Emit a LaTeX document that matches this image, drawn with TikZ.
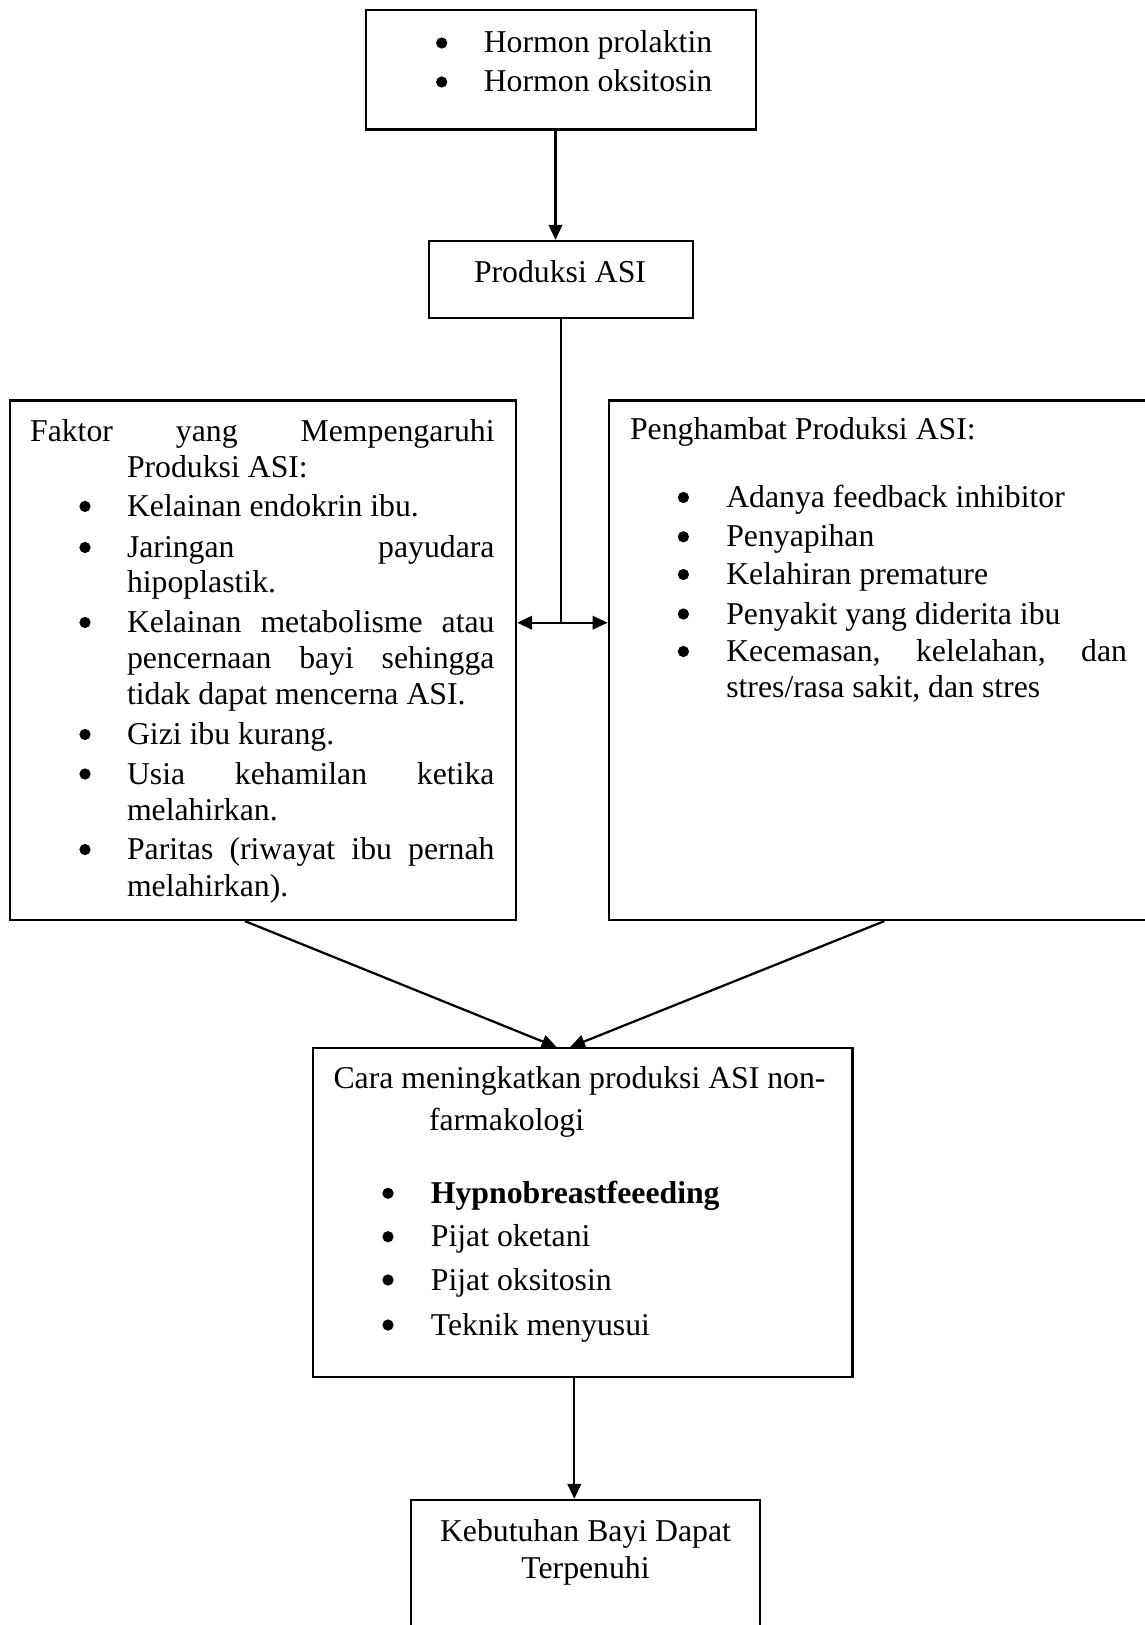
\documentclass[tikz,border=0pt]{standalone}
\usepackage{fontspec}
\setmainfont{Liberation Serif}
\usetikzlibrary{arrows.meta,fit}
\newcommand\LN[4]{\node[txt] (#1) at (#2,#3) {#4};}
\newcommand\CN[4]{\node[ctxt] (#1) at (#2,#3) {#4};}
\newcommand\BL[3]{\node[bul] (#1) at (#2,#3-10) {};}
\newcommand\JL[5]{\node[txt] (#1) at (#2,#3) {\hbox to #4pt{#5}};}
\begin{document}
\begin{tikzpicture}[x=0.4pt,y=-0.4pt,
  font=\fontsize{12.7}{15}\selectfont,
  box/.style={draw, line width=0.9pt, inner sep=0pt, rectangle},
  txt/.style={inner sep=0pt, anchor=base west},
  ctxt/.style={inner sep=0pt, anchor=base},
  bul/.style={circle, fill=black, inner sep=0pt, minimum size=4.5pt},
  arr/.style={line width=0.9pt, -{Triangle[length=6pt,width=5.4pt]}},
  con/.style={line width=0.9pt}]
\useasboundingbox (0,0) rectangle (1145,1625);

% boxes
\node[box, fit={(366,10)(756,129.5)}] (top) {};
\node[box, fit={(429,241)(693,318)}] (prod) {};
\node[box, fit={(10,400.5)(516,920)}] (left) {};
\node[box, fit={(608.7,400.5)(1160,920)}] (right) {};
\node[box, fit={(313.3,1048.3)(852.5,1377.3)}] (cara) {};
\node[box, fit={(411,1500)(760,1650)}] (keb) {};

% top box text
\BL{tb1}{441.7}{53}
\LN{tt1}{483.3}{53}{Hormon prolaktin}
\BL{tb2}{441.7}{92}
\LN{tt2}{483.3}{92}{Hormon oksitosin}

% produksi
\CN{pt}{560}{283}{Produksi ASI}

% left box text
\JL{lh1}{29.6}{441.4}{185.8}{Faktor\hfill yang\hfill Mempengaruhi}
\LN{lh2}{126.5}{477}{Produksi ASI:}
\BL{lb1}{85}{516.4}
\LN{l1}{126.5}{516.4}{Kelainan endokrin ibu.}
\BL{lb2}{85}{557.5}
\JL{l2}{126.5}{557.5}{147}{Jaringan\hfill payudara}
\LN{l3}{126.5}{592}{hipoplastik.}
\BL{lb3}{85}{632.5}
\JL{l4}{126.5}{632.5}{147}{Kelainan\hfill metabolisme\hfill atau}
\JL{l5}{126.5}{668}{147}{pencernaan\hfill bayi\hfill sehingga}
\LN{l6}{126.5}{704}{tidak dapat mencerna ASI.}
\BL{lb4}{85}{744.5}
\LN{l7}{126.5}{744.5}{Gizi ibu kurang.}
\BL{lb5}{85}{784}
\JL{l8}{126.5}{784}{147}{Usia\hfill kehamilan\hfill ketika}
\LN{l9}{126.5}{820}{melahirkan.}
\BL{lb6}{85}{859.5}
\JL{l10}{126.5}{859.5}{147}{Paritas\hfill (riwayat\hfill ibu\hfill pernah}
\LN{l11}{126.5}{896}{melahirkan).}

% right box text
\LN{rh}{629.5}{439.6}{Penghambat Produksi ASI:}
\BL{rb1}{683.4}{507.5}
\LN{r1}{725.8}{507.5}{Adanya feedback inhibitor}
\BL{rb2}{683.4}{546.8}
\LN{r2}{725.8}{546.8}{Penyapihan}
\BL{rb3}{683.4}{584.5}
\LN{r3}{725.8}{584.5}{Kelahiran premature}
\BL{rb4}{683.4}{624}
\LN{r4}{725.8}{624}{Penyakit yang diderita ibu}
\BL{rb5}{683.4}{661.5}
\JL{r5}{725.8}{661.5}{160.3}{Kecemasan,\hfill kelelahan,\hfill dan}
\LN{r6}{725.8}{697}{stres/rasa sakit, dan stres}

% cara box text
\LN{ch1}{333}{1088}{Cara meningkatkan produksi ASI non-}
\LN{ch2}{428.5}{1130}{farmakologi}
\BL{cb1}{388}{1203.3}
\LN{c1}{430.4}{1203.3}{\textbf{Hypnobreastfeeeding}}
\BL{cb2}{388}{1246.7}
\LN{c2}{430.4}{1246.7}{Pijat oketani}
\BL{cb3}{388}{1290}
\LN{c3}{430.4}{1290}{Pijat oksitosin}
\BL{cb4}{388}{1335}
\LN{c4}{430.4}{1335}{Teknik menyusui}

% kebutuhan text
\CN{k1}{585.5}{1541.7}{Kebutuhan Bayi Dapat}
\CN{k2}{585.5}{1578}{Terpenuhi}

% connectors
\draw[arr] ([xshift=-2.2pt]top.south) -- ([xshift=-2.2pt]top.south |- prod.north);
\coordinate (j) at (561,622.7);
\draw[con] (prod.south) -- (prod.south |- j);
\draw[arr] (j) -- (j -| left.east);
\draw[arr] (j) -- (j -| right.west);
\draw[arr] ([xshift=-7.2pt]left.south) -- ([xshift=-10.48pt]cara.north);
\draw[arr] (right.south) -- ([xshift=-5.16pt]cara.north);
\draw[arr] ([xshift=-3.44pt]cara.south) -- ([xshift=-3.44pt]cara.south |- keb.north);
\end{tikzpicture}
\end{document}
